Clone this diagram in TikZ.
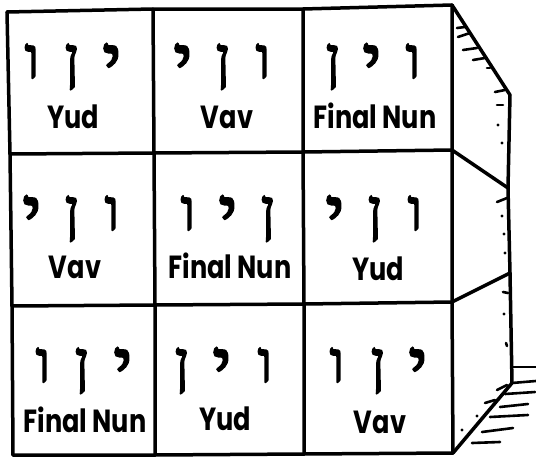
\documentclass[tikz,border=0pt]{standalone}
\usepackage{fontspec}
\setmainfont{Poppins}
\newfontfamily\heb[Script=Hebrew,FakeBold=2.5]{Liberation Serif}
\newcommand\lbltext[1]{\scalebox{0.8}[1]{#1}}
\tikzset{
  edge/.style={line width=3.5pt, line cap=round, line join=round},
  hatch/.style={line width=2.6pt, line cap=round},
  dot/.style={circle, fill, inner sep=0pt, minimum size=3.4pt},
  letter/.style={font=\heb\fontsize{58}{58}\selectfont, inner sep=0pt, anchor=base},
  yudl/.style={font=\heb\fontsize{74}{74}\selectfont, inner sep=0pt, anchor=base, yshift=-9pt},
  lbl/.style={font=\bfseries\fontsize{32}{32}\selectfont, inner sep=0pt, anchor=base},
}
\begin{document}
\begin{tikzpicture}[x=1pt,y=-1pt]
\useasboundingbox (0,0) rectangle (536,458);
% grid corner coordinates
\coordinate (t0) at (7,12);   \coordinate (t1) at (153,9);   \coordinate (t2) at (303,9);   \coordinate (t3) at (452,5);
\coordinate (a0) at (10,154); \coordinate (a1) at (154,153); \coordinate (a2) at (303,152); \coordinate (a3) at (452,150);
\coordinate (b0) at (12,306); \coordinate (b1) at (155,305); \coordinate (b2) at (304,304); \coordinate (b3) at (452,302);
\coordinate (c0) at (13,455); \coordinate (c1) at (155,455); \coordinate (c2) at (304,454); \coordinate (c3) at (453,453);
% side face
\coordinate (s0) at (510,95);
\coordinate (s1) at (508,188);
\coordinate (s2) at (510,273);
\coordinate (s3) at (512,383);
% front grid
\draw[edge] (t0) -- (t1) -- (t2) -- (t3);
\draw[edge] (a0) -- (a1) -- (a2) -- (a3);
\draw[edge] (b0) -- (b1) -- (b2) -- (b3);
\draw[edge] (c0) -- (c1) -- (c2) -- (c3);
\draw[edge] (t0) -- (a0) -- (b0) -- (c0);
\draw[edge] (t1) -- (a1) -- (b1) -- (c1);
\draw[edge] (t2) -- (a2) -- (b2) -- (c2);
\draw[edge] (t3) -- (a3) -- (b3) -- (c3);
% side face outline
\draw[edge] (t3) -- (s0) -- (s1) -- (s2) -- (s3);
\draw[edge] (a3) -- (s1);
\draw[edge] (b3) -- (s2);
\draw[edge] (c3) -- (s3);
% shading strokes, top section
\draw[hatch] (457,28) -- (465,27);
\draw[hatch] (458,37) -- (470,33);
\draw[hatch] (463,50) -- (477,48);
\draw[hatch] (473,60) -- (485,58);
\draw[hatch] (487,68) -- (490,68);
\draw[hatch] (495,92) -- (505,90);
\draw[hatch] (497,105) -- (503,105);
\node[dot] (d1) at (498,125) {};
\node[dot] (d2) at (502,143) {};
% middle section
\draw[hatch] (497,202) -- (507,198);
\node[dot] (d3) at (502,216) {};
\node[dot] (d4) at (504,234) {};
% bottom section
\node[dot] (d5) at (505,253) {};
\draw[hatch] (503,292) -- (508,293);
\node[dot] (d6) at (504,314) {};
\draw[hatch] (506,343) -- (507,346);
% ground hatching
\draw[hatch] (513,367) -- (536,367);
\draw[hatch] (512,383) -- (536,381);
\draw[hatch] (505,394) -- (535,392);
\draw[hatch] (500,407) -- (528,404);
\draw[hatch] (490,417) -- (528,415);
\draw[hatch] (482,432) -- (513,428);
\draw[hatch] (472,443) -- (500,442);
\draw[hatch] (497,390) -- (507,385);
\draw[hatch] (485,403) -- (495,400);
\node[dot] (d7) at (477,416) {};
\node[dot] (d8) at (462,430) {};
% row 1
\node[letter] (r1c1a) at (32,78) {ו};
\node[letter] (r1c1b) at (72,78) {ן};
\node[yudl] (r1c1c) at (112,78) {י};
\node[lbl] (r1c1) at (73,128) {\lbltext{Yud}};
\node[yudl] (r1c2a) at (183,78) {י};
\node[letter] (r1c2b) at (223,78) {ן};
\node[letter] (r1c2c) at (263,78) {ו};
\node[lbl] (r1c2) at (227,128) {\lbltext{Vav}};
\node[letter] (r1c3a) at (333,78) {ן};
\node[yudl] (r1c3b) at (372,78) {י};
\node[letter] (r1c3c) at (413,78) {ו};
\node[lbl] (r1c3) at (375,128) {\lbltext{Final Nun}};
% row 2
\node[yudl] (r2c1a) at (32,230) {י};
\node[letter] (r2c1b) at (72,230) {ן};
\node[letter] (r2c1c) at (112,230) {ו};
\node[lbl] (r2c1) at (75,278) {\lbltext{Vav}};
\node[letter] (r2c2a) at (188,230) {ו};
\node[yudl] (r2c2b) at (228,230) {י};
\node[letter] (r2c2c) at (268,230) {ן};
\node[lbl] (r2c2) at (230,278) {\lbltext{Final Nun}};
\node[yudl] (r2c3a) at (335,230) {י};
\node[letter] (r2c3b) at (375,230) {ן};
\node[letter] (r2c3c) at (415,230) {ו};
\node[lbl] (r2c3) at (378,280) {\lbltext{Yud}};
% row 3
\node[letter] (r3c1a) at (43,382) {ו};
\node[letter] (r3c1b) at (82,382) {ן};
\node[yudl] (r3c1c) at (123,382) {י};
\node[lbl] (r3c1) at (85,432) {\lbltext{Final Nun}};
\node[letter] (r3c2a) at (182,382) {ן};
\node[yudl] (r3c2b) at (222,382) {י};
\node[letter] (r3c2c) at (265,382) {ו};
\node[lbl] (r3c2) at (225,430) {\lbltext{Yud}};
\node[letter] (r3c3a) at (337,382) {ו};
\node[letter] (r3c3b) at (378,382) {ן};
\node[yudl] (r3c3c) at (418,382) {י};
\node[lbl] (r3c3) at (380,433) {\lbltext{Vav}};
\end{tikzpicture}
\end{document}
